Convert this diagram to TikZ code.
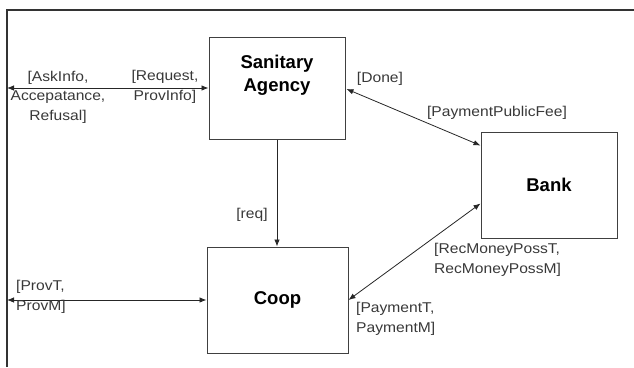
\documentclass[tikz,border=0pt]{standalone}
\usepackage{fontspec}
\setmainfont{Liberation Sans}
\newfontfamily\lblfont[FakeStretch=1.1]{Liberation Sans}
\usetikzlibrary{arrows.meta,calc}
\begin{document}
\begin{tikzpicture}[x=1pt,y=-1pt,
  box/.style={draw=black!75, line width=1pt, inner sep=0pt},
  bfont/.style={font=\bfseries\fontsize{18.5}{23}\selectfont, align=center, text=black},
  lbl/.style={text=black!78, inner sep=0pt, font=\lblfont\fontsize{14.2}{19.5}\selectfont},
  conn/.style={draw=black!85, line width=0.8pt},
  tip/.tip={Latex[length=7pt,width=5.5pt]},
  frame/.style={draw=black!80, line width=1.2pt}
]
\useasboundingbox (0,0) rectangle (634,367);
% frame
\coordinate (tl) at (7,10);
\coordinate (tr) at (634,10);
\coordinate (bl) at (7,367);
\draw[frame] (bl) -- (tl) -- (tr);
\coordinate (la) at (7,88);
\coordinate (lc) at (7,300);
% boxes
\node[box, minimum width=136pt, minimum height=102pt,
  label={[bfont, yshift=13pt]center:{Sanitary\\Agency}}] (sa) at (277,88) {};
\node[box, minimum width=136pt, minimum height=106pt,
  label={[bfont]center:Bank}] (bank) at (549,185) {};
\node[box, minimum width=141pt, minimum height=106pt,
  label={[bfont]center:Coop}] (coop) at (277.5,300) {};
% connectors
\draw[conn, tip-tip] (la) -- (sa.west);
\draw[conn, tip-tip] (lc) -- (coop.west);
\draw[conn, -tip] (sa.south) -- (sa.south |- coop.north);
\draw[conn, tip-tip] ($(sa.east)+(1,1)$) -- ($(bank.north west)+(0,14)$);
\draw[conn, tip-tip] (coop.east) -- ($(bank.south west)+(0,-35)$);
% labels
\node[lbl, align=center] (l1) at (58,97) {[AskInfo,\\Accepatance,\\Refusal]};
\node[lbl, align=center] (l2) at (165,87) {[Request,\\ProvInfo]};
\node[lbl] (l3) at (380,79) {[Done]};
\node[lbl] (l4) at (497,113) {[PaymentPublicFee]};
\node[lbl] (l5) at (252,215) {[req]};
\node[lbl, align=left, anchor=west] (l6) at (16,297) {[ProvT,\\ProvM]};
\node[lbl, align=left, anchor=west] (l7) at (434,260) {[RecMoneyPossT,\\RecMoneyPossM]};
\node[lbl, align=left, anchor=west] (l8) at (356,319) {[PaymentT,\\PaymentM]};
\end{tikzpicture}
\end{document}
